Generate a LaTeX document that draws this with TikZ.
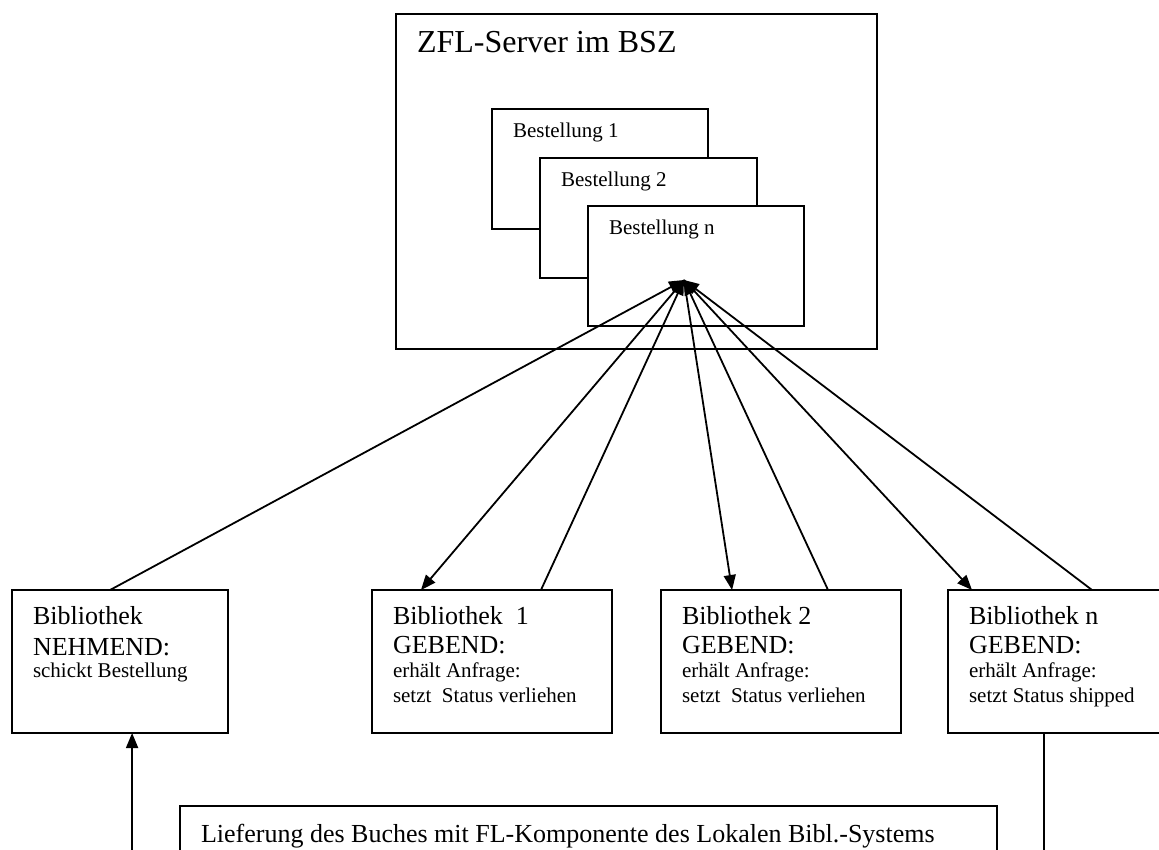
\documentclass[tikz,border=0pt]{standalone}
\usepackage{fontspec}
\setmainfont{Liberation Serif}
\usetikzlibrary{arrows.meta,calc}
\newcommand\fbig{\fontsize{26}{30}\selectfont}
\newcommand\fsml{\fontsize{21}{25}\selectfont}
\begin{document}
\begin{tikzpicture}[x=1pt,y=-1pt,
  box/.style={draw,line width=2.1pt,fill=white,rectangle,anchor=north west,inner sep=0pt,outer sep=0pt},
  txt/.style={anchor=base west,inner sep=0pt,outer sep=0pt},
  lnk/.style={line width=1.8pt},
  arr/.style={line width=1.8pt,-{Triangle[length=15pt,width=12pt]}}]
\useasboundingbox (0,0) rectangle (1159,850);
\clip (0,0) rectangle (1159,850);
% server
\node[box,minimum width=481pt,minimum height=335pt] (srv) at (396,14) {};
\node[txt] (srvt) at (417,53) {\fontsize{32}{38}\selectfont ZFL-Server im BSZ};
\node[box,minimum width=216pt,minimum height=120pt] (b1) at (492,109) {};
\node[txt] (b1t) at (513,138) {\fsml Bestellung 1};
\node[box,minimum width=217pt,minimum height=120pt] (b2) at (540,158) {};
\node[txt] (b2t) at (561,187) {\fsml Bestellung 2};
\node[box,minimum width=216pt,minimum height=120pt] (bn) at (588,206) {};
\node[txt] (bnt) at (609,235) {\fsml Bestellung n};
\coordinate (hub) at (684,280);
% libraries
\node[box,minimum width=216pt,minimum height=143pt] (nehm) at (12,590) {};
\node[txt] (nehmt) at (33,624) {\vtop{\hbox{\fbig Bibliothek}\baselineskip=31pt\hbox{\fbig NEHMEND:}\baselineskip=22pt\hbox{\fsml schickt Bestellung}}};
\node[box,minimum width=240pt,minimum height=143pt] (lib1) at (372,590) {};
\node[txt] (lib1t) at (393,624) {\vtop{\hbox{\fbig Bibliothek\ \ 1}\baselineskip=29pt\hbox{\fbig GEBEND:}\baselineskip=24pt\hbox{\fsml erhält Anfrage:}\baselineskip=25pt\hbox{\fsml setzt\ \ Status verliehen}}};
\node[box,minimum width=240pt,minimum height=143pt] (lib2) at (661,590) {};
\node[txt] (lib2t) at (682,624) {\vtop{\hbox{\fbig Bibliothek 2}\baselineskip=29pt\hbox{\fbig GEBEND:}\baselineskip=24pt\hbox{\fsml erhält Anfrage:}\baselineskip=25pt\hbox{\fsml setzt\ \ Status verliehen}}};
\node[box,minimum width=240pt,minimum height=143pt] (libn) at (948,590) {};
\node[txt] (libnt) at (969,624) {\vtop{\hbox{\fbig Bibliothek n}\baselineskip=29pt\hbox{\fbig GEBEND:}\baselineskip=24pt\hbox{\fsml erhält Anfrage:}\baselineskip=25pt\hbox{\fsml setzt Status shipped}}};
% delivery
\node[box,minimum width=817pt,minimum height=100pt] (lief) at (180,806) {};
\node[txt] (lieft) at (201,842) {\fbig Lieferung des Buches mit FL-Komponente des Lokalen Bibl.-Systems};
\coordinate (inA) at (132,860);
\coordinate (outB) at (1044,860);
% connectors
\draw[arr] ($(nehm.north west)!0.454!(nehm.north east)$) -- (hub);
\draw[arr] ($(lib1.north west)!0.704!(lib1.north east)$) -- (hub);
\draw[arr] ($(lib2.north west)!0.696!(lib2.north east)$) -- (hub);
\draw[arr] ($(libn.north west)!0.6!(libn.north east)$) -- (hub);
\draw[arr] (hub) -- ($(lib1.north west)!0.204!(lib1.north east)$);
\draw[arr] (hub) -- ($(lib2.north west)!0.296!(lib2.north east)$);
\draw[arr] (hub) -- ($(libn.north west)!0.1!(libn.north east)$);
\draw[arr] (inA) -- ($(nehm.south west)!0.556!(nehm.south east)$);
\draw[lnk] ($(libn.south west)!0.4!(libn.south east)$) -- (outB);
\end{tikzpicture}
\end{document}
